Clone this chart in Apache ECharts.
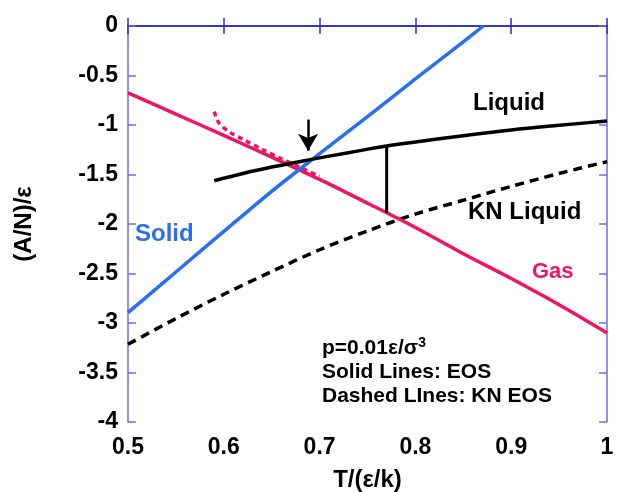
<!DOCTYPE html>
<html>
<head>
<meta charset="utf-8">
<script src="https://cdn.jsdelivr.net/npm/echarts@6/dist/echarts.min.js"></script>
<style>
  html, body { margin: 0; padding: 0; background: #fff; }
  #chart { width: 617px; height: 492px; }
</style>
</head>
<body>
<div id="chart"></div>
<script>
// Helmholtz free energy per particle vs temperature at p = 0.01 ε/σ³
var xTicks = [0.5, 0.6, 0.7, 0.8, 0.9, 1];
var yTicks = [-4, -3.5, -3, -2.5, -2, -1.5, -1, -0.5, 0];

// EOS curves (solid)
var solidT = [0.5, 0.55, 0.6, 0.65, 0.7, 0.75, 0.8, 0.85, 0.871];
var solidA = [-2.895, -2.485, -2.075, -1.67, -1.29, -0.915, -0.535, -0.16, 0];

var gasT = [0.5, 0.55, 0.6, 0.65, 0.7, 0.75, 0.8, 0.85, 0.9, 0.95, 1.0];
var gasA = [-0.675, -0.89, -1.105, -1.325, -1.55, -1.79, -2.035, -2.30, -2.55, -2.815, -3.10];

var liquidT = [0.59, 0.62, 0.65, 0.69, 0.73, 0.77, 0.8, 0.85, 0.9, 0.95, 1.0];
var liquidA = [-1.563, -1.49, -1.425, -1.35, -1.28, -1.213, -1.172, -1.108, -1.05, -1.003, -0.96];

// KN EOS curves (dashed)
var knGasT = [0.59, 0.595, 0.605, 0.62, 0.64, 0.66, 0.68, 0.70];
var knGasA = [-0.865, -0.98, -1.065, -1.145, -1.245, -1.34, -1.43, -1.52];

var knLiquidT = [0.5, 0.55, 0.6, 0.65, 0.7, 0.75, 0.8, 0.85, 0.9, 0.95, 1.0];
var knLiquidA = [-3.215, -2.955, -2.71, -2.48, -2.26, -2.07, -1.90, -1.76, -1.62, -1.49, -1.37];

// Liquid–gas coexistence marker and arrow at the solid–liquid crossing
var tieT = 0.77;
var tieA = [-1.213, -1.89];
var arrowT = 0.688;
var arrowA = [-0.945, -1.26];

function pairs(xs, ys) { return xs.map(function (x, i) { return [x, ys[i]]; }); }

var BLUE = '#2a6ef2';
var PINK = '#f2145f';
var FONT = 'Liberation Sans';

var chart = echarts.init(document.getElementById('chart'), null, { renderer: 'canvas' });

var boxX = '#2a2ad0';
var boxY = '#6e6ee6';

function tickText(v) { return String(Math.round(v * 10) / 10); }

chart.setOption({
  animation: false,
  grid: { left: 128, right: 10, top: 26, bottom: 70, containLabel: false, outerBoundsMode: 'none' },
  xAxis: [
    {
      type: 'value', min: 0.5, max: 1, interval: 0.1, position: 'bottom',
      name: 'T/(ε/k)', nameLocation: 'middle', nameGap: 46,
      nameTextStyle: { fontFamily: FONT, fontWeight: 'bold', fontSize: 24, color: '#000' },
      axisLine: { show: true, lineStyle: { color: boxX, width: 1.5 } },
      axisTick: { show: true, inside: true, length: 8, lineStyle: { color: boxX, width: 1.5 } },
      axisLabel: { margin: 14, fontFamily: FONT, fontWeight: 'bold', fontSize: 23, color: '#000', formatter: tickText },
      splitLine: { show: false }
    },
    {
      type: 'value', min: 0.5, max: 1, interval: 0.1, position: 'top',
      axisLine: { show: true, lineStyle: { color: boxX, width: 1.5 } },
      axisTick: { show: true, inside: true, length: 8, lineStyle: { color: boxX, width: 1.5 } },
      axisLabel: { show: false },
      splitLine: { show: false }
    }
  ],
  yAxis: [
    {
      type: 'value', min: -4, max: 0, interval: 0.5, position: 'left',
      name: '(A/N)/ε', nameLocation: 'middle', nameGap: 92, nameRotate: 90,
      nameTextStyle: { fontFamily: FONT, fontWeight: 'bold', fontSize: 24, color: '#000' },
      axisLine: { show: true, lineStyle: { color: boxY, width: 1.5 } },
      axisTick: { show: true, inside: true, length: 8, lineStyle: { color: boxY, width: 1.5 } },
      axisLabel: { margin: 10, fontFamily: FONT, fontWeight: 'bold', fontSize: 23, color: '#000', formatter: tickText },
      splitLine: { show: false }
    },
    {
      type: 'value', min: -4, max: 0, interval: 0.5, position: 'right',
      axisLine: { show: true, lineStyle: { color: boxY, width: 1.5 } },
      axisTick: { show: true, inside: true, length: 8, lineStyle: { color: boxY, width: 1.5 } },
      axisLabel: { show: false },
      splitLine: { show: false }
    }
  ],
  series: [
    {
      name: 'KN Liquid', type: 'line', data: pairs(knLiquidT, knLiquidA), smooth: 0.3,
      showSymbol: false, lineStyle: { color: '#000', width: 3.5, type: [9, 6] }, z: 2
    },
    {
      name: 'KN Gas', type: 'line', data: pairs(knGasT, knGasA), smooth: 0.3,
      showSymbol: false, lineStyle: { color: PINK, width: 3.5, type: [5, 4] }, z: 2
    },
    {
      name: 'Gas', type: 'line', data: pairs(gasT, gasA), smooth: 0.3,
      showSymbol: false, lineStyle: { color: PINK, width: 3.5 }, z: 3
    },
    {
      name: 'Solid', type: 'line', data: pairs(solidT, solidA), smooth: 0.3,
      showSymbol: false, lineStyle: { color: BLUE, width: 3.5 }, z: 4
    },
    {
      name: 'Liquid', type: 'line', data: pairs(liquidT, liquidA), smooth: 0.4,
      showSymbol: false, lineStyle: { color: '#000', width: 3.5 }, z: 5
    },
    {
      name: 'tie', type: 'line', data: [[tieT, tieA[0]], [tieT, tieA[1]]],
      showSymbol: false, lineStyle: { color: '#000', width: 3 }, z: 5,
      markLine: {
        silent: true, symbol: ['none', 'arrow'], symbolSize: [15, 17],
        label: { show: false },
        lineStyle: { color: '#000', width: 2.5, type: 'solid' },
        data: [[{ coord: [arrowT, arrowA[0]] }, { coord: [arrowT, arrowA[1]] }]]
      }
    }
  ],
  graphic: [
    { type: 'text', left: 473, top: 91, style: { text: 'Liquid', fontFamily: FONT, fontWeight: 'bold', fontSize: 24, fill: '#000' } },
    { type: 'text', left: 468, top: 200, style: { text: 'KN Liquid', fontFamily: FONT, fontWeight: 'bold', fontSize: 24, fill: '#000' } },
    { type: 'text', left: 135, top: 222, style: { text: 'Solid', fontFamily: FONT, fontWeight: 'bold', fontSize: 24, fill: BLUE } },
    { type: 'text', left: 532, top: 261, style: { text: 'Gas', fontFamily: FONT, fontWeight: 'bold', fontSize: 22, fill: PINK } },
    {
      type: 'text', left: 322, top: 336,
      style: {
        text: '{a|p=0.01ε/σ}{s|3}\n{a|Solid Lines: EOS}\n{a|Dashed LInes: KN EOS}',
        rich: {
          a: { fontFamily: FONT, fontWeight: 'bold', fontSize: 21, fill: '#000', lineHeight: 24 },
          s: { fontFamily: FONT, fontWeight: 'bold', fontSize: 14, fill: '#000', verticalAlign: 'top', lineHeight: 24, padding: [0, 0, 10, 0] }
        }
      }
    }
  ]
});
</script>
</body>
</html>
